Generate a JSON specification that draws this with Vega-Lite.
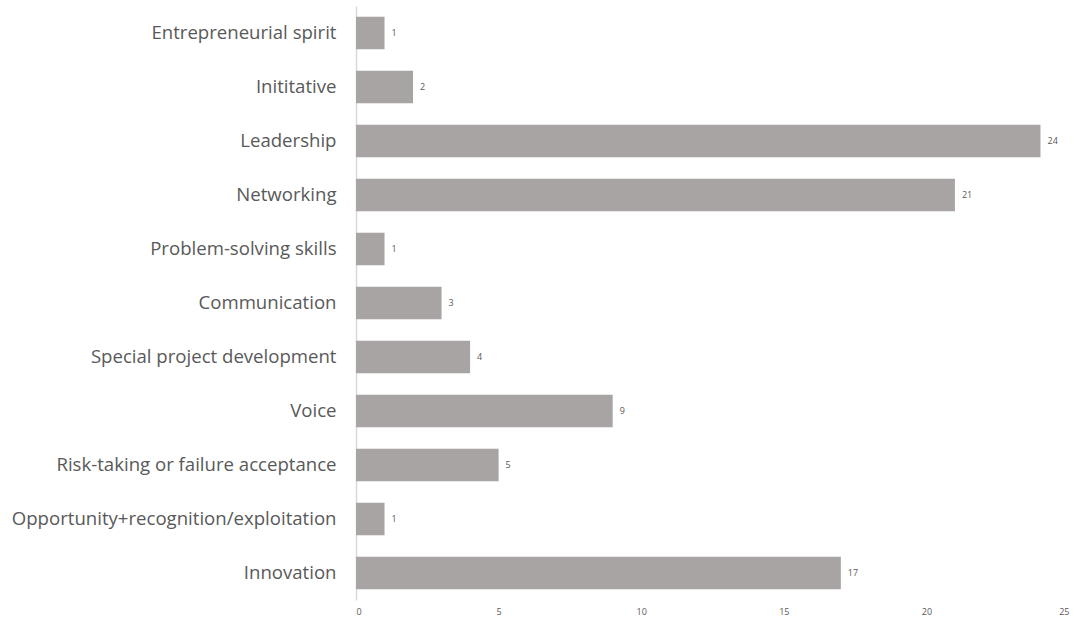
{
  "$schema": "https://vega.github.io/schema/vega-lite/v6.json",
  "width": 713,
  "height": 594,
  "autosize": {"type": "none"},
  "padding": {"left": 356, "top": 6, "right": 8, "bottom": 24},
  "background": "white",
  "config": {"view": {"stroke": null}, "font": "Open Sans"},
  "data": {"values": [
    {"skill": "Entrepreneurial spirit", "count": 1},
    {"skill": "Inititative", "count": 2},
    {"skill": "Leadership", "count": 24},
    {"skill": "Networking", "count": 21},
    {"skill": "Problem-solving skills", "count": 1},
    {"skill": "Communication", "count": 3},
    {"skill": "Special project development", "count": 4},
    {"skill": "Voice", "count": 9},
    {"skill": "Risk-taking or failure acceptance", "count": 5},
    {"skill": "Opportunity+recognition/exploitation", "count": 1},
    {"skill": "Innovation", "count": 17}
  ]},
  "encoding": {
    "y": {"field": "skill", "type": "nominal", "sort": null,
      "scale": {"paddingInner": 0.4, "paddingOuter": 0.2},
      "axis": {"title": null, "ticks": false, "domainColor": "#d9d9d9", "domainWidth": 1.5,
        "labelFontSize": 18.6, "labelColor": "#595959", "labelPadding": 20, "labelFont": "Open Sans", "labelLimit": 400}},
    "x": {"field": "count", "type": "quantitative",
      "scale": {"domain": [0, 25], "nice": false},
      "axis": {"title": null, "values": [0, 5, 10, 15, 20, 25], "grid": false, "domain": false, "ticks": false,
        "labelFontSize": 9, "labelColor": "#595959", "labelPadding": 7, "labelFont": "Open Sans"}}
  },
  "layer": [
    {"mark": {"type": "bar", "color": "#a8a4a3"}},
    {"mark": {"type": "text", "align": "left", "dx": 7, "fontSize": 9, "color": "#595959", "font": "Open Sans"},
      "encoding": {"text": {"field": "count", "type": "quantitative"}}}
  ]
}
